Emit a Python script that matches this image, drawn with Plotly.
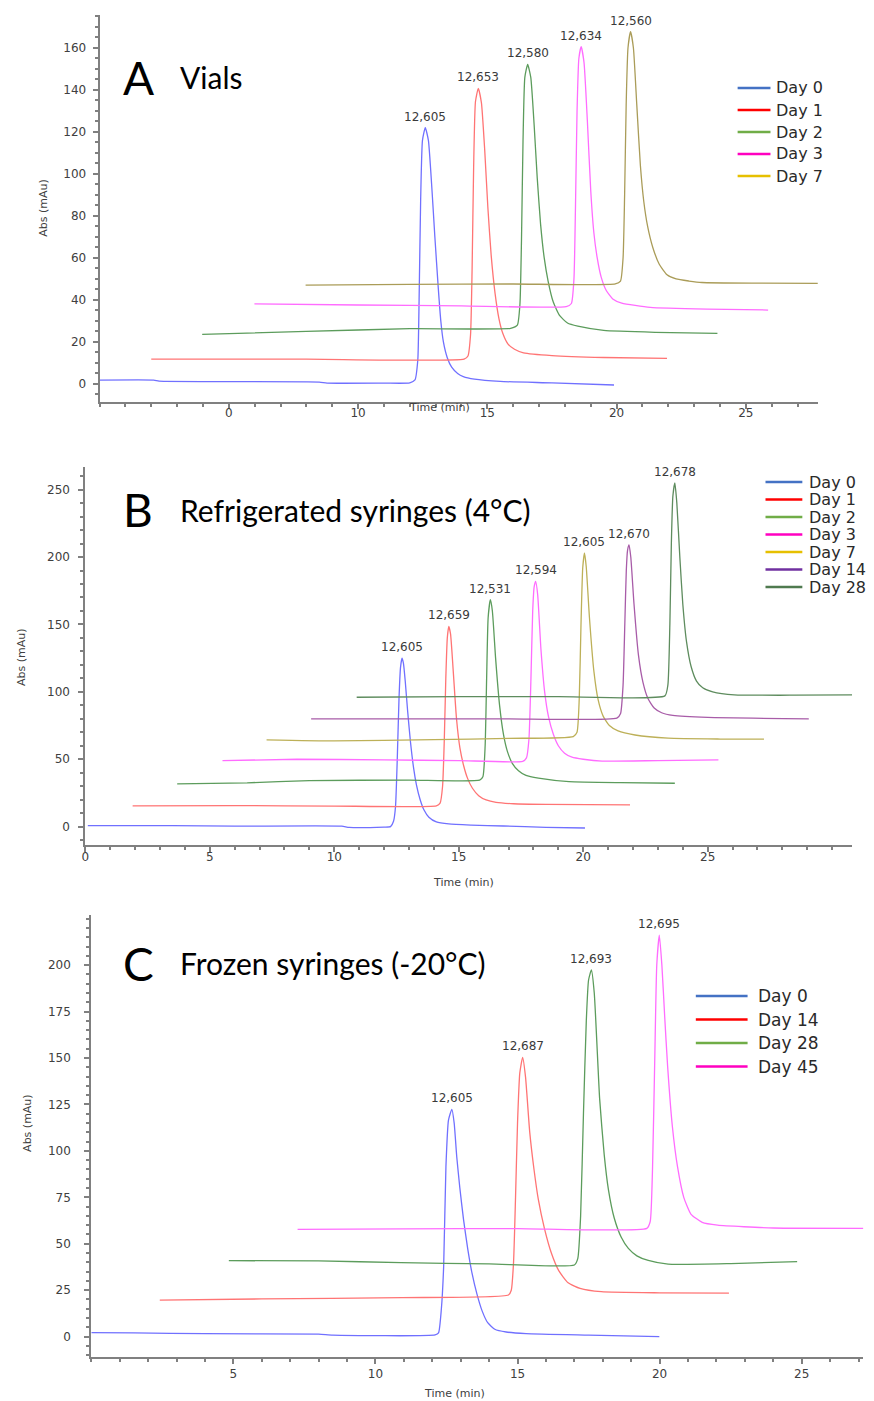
import plotly.graph_objects as go

W, H = 874, 1401

# ---------------- Panel A : Vials ----------------
A_labels = ["Day 0", "Day 1", "Day 2", "Day 3", "Day 7"]
A_masses = ["12,605", "12,653", "12,580", "12,634", "12,560"]

A_day0_t = [0.0, 2.1, 2.3, 5.0, 8.5, 8.8, 11.0, 12.0, 12.2, 12.31, 12.36, 12.42, 12.49, 12.6, 12.72, 12.85, 12.97, 13.1, 13.2, 13.3, 13.45, 13.62, 13.85, 14.07, 14.5, 15.5, 17.5, 19.9]
A_day0_y = [1.8, 1.8, 1.3, 1.1, 0.9, 0.4, 0.4, 0.5, 1.9, 11.4, 40, 87.6, 116, 122, 116, 94, 70, 46, 30, 20, 12.5, 8, 5, 3.5, 2.3, 1.2, 0.5, -0.5]
A_day1_t = [2.0, 8.0, 14.1, 14.25, 14.35, 14.41, 14.47, 14.54, 14.65, 14.77, 14.9, 15.02, 15.15, 15.3, 15.45, 15.6, 15.8, 16.05, 16.4, 17.5, 19.5, 21.95]
A_day1_y = [11.8, 11.8, 11.8, 13.3, 23.4, 54.4, 103.4, 134.4, 140.8, 134, 111, 84, 61, 43, 31, 24, 19, 16.5, 14.8, 13.5, 12.6, 12.2]
A_day2_t = [3.97, 8.0, 12.0, 15.9, 16.16, 16.26, 16.32, 16.38, 16.45, 16.56, 16.68, 16.81, 16.93, 17.06, 17.2, 17.35, 17.55, 17.8, 18.1, 18.5, 19.5, 21.5, 23.9]
A_day2_y = [23.6, 25.0, 26.3, 26.5, 28.0, 37.8, 68, 115.7, 146, 152.2, 146, 123.3, 98, 76, 60, 49, 39, 32.5, 29, 27.5, 25.5, 24.6, 24.1]
A_day3_t = [5.99, 10.0, 14.0, 18.05, 18.25, 18.35, 18.41, 18.47, 18.54, 18.63, 18.74, 18.87, 19.0, 19.12, 19.25, 19.4, 19.6, 19.85, 20.2, 21.3, 23.5, 25.86]
A_day3_y = [38.1, 37.6, 37.2, 36.8, 38.3, 50, 85, 130, 155, 160.6, 153, 125, 92, 72, 60, 51, 44.5, 40.5, 38.5, 36.5, 35.6, 35.2]
A_day7_t = [7.97, 12.0, 16.0, 19.95, 20.15, 20.25, 20.31, 20.37, 20.44, 20.54, 20.65, 20.78, 20.92, 21.05, 21.2, 21.4, 21.65, 21.95, 22.3, 22.8, 23.3, 25.5, 27.78]
A_day7_y = [47.1, 47.4, 47.6, 47.6, 49, 60, 90, 133, 160, 167.8, 160, 133, 104, 87, 75, 65, 57, 52, 50, 49, 48.3, 48.0, 47.9]

# ---------------- Panel B : Refrigerated syringes ----------------
B_labels = ["Day 0", "Day 1", "Day 2", "Day 3", "Day 7", "Day 14", "Day 28"]
B_masses = ["12,605", "12,659", "12,531", "12,594", "12,605", "12,670", "12,678"]

B_day0_t = [0.1, 3.5, 6.0, 10.3, 10.6, 12.0, 12.26, 12.38, 12.46, 12.53, 12.6, 12.66, 12.72, 12.78, 12.85, 12.95, 13.06, 13.19, 13.3, 13.45, 13.6, 13.8, 14.1, 14.6, 15.5, 16.8, 18.5, 20.07]
B_day0_y = [0.8, 0.8, 0.4, 0.4, -0.5, -0.3, 0.0, 4, 15, 50, 95, 118, 125, 121, 108, 85, 63, 43, 31, 20, 12.5, 7, 3.5, 2, 1.2, 0.5, -0.5, -1.0]
B_day1_t = [1.9, 6.0, 10.0, 14.1, 14.25, 14.35, 14.42, 14.48, 14.54, 14.6, 14.67, 14.78, 14.91, 15.05, 15.2, 15.35, 15.55, 15.8, 16.1, 16.5, 17.2, 18.5, 21.88]
B_day1_y = [15.4, 15.6, 15.3, 15.5, 17.5, 30, 65, 110, 140, 148.5, 143, 115, 80, 58, 45, 36, 28.5, 23, 19.8, 18, 17, 16.5, 16.1]
B_day2_t = [3.69, 6.5, 9.0, 13.0, 15.84, 15.97, 16.06, 16.12, 16.18, 16.27, 16.35, 16.48, 16.64, 16.8, 16.95, 17.15, 17.4, 17.7, 18.2, 19.43, 21.5, 23.68]
B_day2_y = [31.7, 32.5, 34.2, 34.5, 34.5, 37, 60, 110, 155, 168.3, 160, 125, 90, 68, 56, 47, 41.5, 38, 36, 33.4, 32.6, 32.2]
B_day3_t = [5.51, 8.5, 12.0, 15.0, 17.57, 17.72, 17.82, 17.9, 17.97, 18.03, 18.09, 18.17, 18.3, 18.45, 18.6, 18.8, 19.0, 19.25, 19.55, 20.0, 20.76, 23.0, 25.43]
B_day3_y = [49.0, 50.0, 49.5, 49.0, 48.5, 51, 65, 110, 160, 178, 181.9, 172, 132, 100, 82, 68.5, 60, 54.5, 51.5, 50, 48.6, 49, 49.5]
B_day7_t = [7.28, 10.0, 14.0, 17.0, 19.6, 19.75, 19.84, 19.91, 19.98, 20.05, 20.12, 20.25, 20.43, 20.6, 20.8, 21.05, 21.4, 22.08, 23.41, 25.5, 27.26]
B_day7_y = [64.4, 63.6, 64.5, 65.5, 66.8, 70, 95, 150, 192, 203, 193, 155, 115, 94, 82, 75, 71, 68, 65.6, 65, 64.9]
B_day14_t = [9.07, 13.0, 17.0, 21.35, 21.5, 21.6, 21.67, 21.73, 21.78, 21.84, 21.91, 22.04, 22.22, 22.4, 22.6, 22.85, 23.15, 23.6, 25.0, 29.06]
B_day14_y = [80, 80, 80, 80.5, 84, 105, 150, 190, 205, 209, 200, 165, 127, 107, 95, 88, 84.5, 82.5, 81, 80]
B_day28_t = [10.9, 15.0, 19.0, 23.28, 23.4, 23.48, 23.54, 23.6, 23.68, 23.76, 23.88, 24.0, 24.15, 24.33, 24.55, 24.8, 25.2, 26.07, 28.5, 30.8]
B_day28_y = [96, 96.5, 96.5, 97, 105, 150, 210, 245, 255, 240, 200, 165, 137, 119, 108, 103, 100, 97.8, 97.5, 97.8]

# ---------------- Panel C : Frozen syringes ----------------
C_labels = ["Day 0", "Day 14", "Day 28", "Day 45"]
C_masses = ["12,605", "12,687", "12,693", "12,695"]

C_day0_t = [0.0, 1.5, 4.0, 8.0, 8.5, 12.1, 12.22, 12.32, 12.4, 12.48, 12.57, 12.69, 12.77, 12.86, 12.97, 13.1, 13.25, 13.4, 13.57, 13.75, 13.95, 14.2, 14.6, 15.3, 17.5, 19.99]
C_day0_y = [2.2, 2.0, 1.6, 1.3, 0.8, 0.9, 2, 15, 37.7, 91.5, 116.6, 122.4, 115, 97, 80, 63, 47, 34, 23, 14, 7.5, 4, 2.5, 1.6, 0.8, 0.0]
C_day14_t = [2.41, 6.0, 10.94, 14.68, 14.78, 14.86, 14.93, 15.0, 15.08, 15.18, 15.28, 15.43, 15.58, 15.73, 15.95, 16.19, 16.45, 16.78, 17.2, 17.95, 20.0, 22.44]
C_day14_y = [19.7, 20.3, 21, 22.4, 25, 40, 75, 115, 142, 150.4, 140, 110, 90, 74, 58, 45, 35.5, 29, 26, 24.2, 23.6, 23.4]
C_day28_t = [4.84, 8.0, 10.9, 14.0, 17.0, 17.12, 17.22, 17.32, 17.42, 17.5, 17.6, 17.7, 17.89, 18.05, 18.2, 18.4, 18.65, 18.9, 19.2, 19.6, 20.3, 22.5, 24.84]
C_day28_y = [40.9, 40.8, 39.8, 39.2, 38.6, 42, 65, 120, 170, 192, 197.4, 185, 128, 98, 79, 64, 53.5, 47.5, 43.5, 41, 39, 39.3, 40.4]
C_day45_t = [7.26, 11.0, 15.0, 19.55, 19.67, 19.75, 19.83, 19.9, 19.99, 20.08, 20.18, 20.28, 20.45, 20.63, 20.85, 21.1, 21.5, 22.04, 24.0, 27.17]
C_day45_y = [57.8, 58.0, 58.2, 58.3, 62, 90, 150, 200, 216.2, 200, 172, 146, 113, 91.5, 75, 66, 61.5, 60, 58.5, 58.3]

# colours
A_line_colors = ["#7070ff", "#ff7474", "#5c9c5c", "#ff6cff", "#aa9c58"]
A_leg_colors = ["#4472c4", "#ff0000", "#70ad47", "#ff00c0", "#e6c000"]
B_line_colors = ["#7070ff", "#ff7474", "#5c9c5c", "#ff6cff", "#bdb058", "#a85ca8", "#5e8c5e"]
B_leg_colors = ["#4472c4", "#ff0000", "#70ad47", "#ff00c0", "#e6c000", "#7030a0", "#4f7a4f"]
C_line_colors = ["#7070ff", "#ff7474", "#5c9c5c", "#ff6cff"]
C_leg_colors = ["#4472c4", "#ff0000", "#70ad47", "#ff00c0"]

panels = [
    dict(ax="x", ay="y", labels=A_labels, masses=A_masses,
         series=[(A_day0_t, A_day0_y), (A_day1_t, A_day1_y), (A_day2_t, A_day2_y),
                 (A_day3_t, A_day3_y), (A_day7_t, A_day7_y)],
         lc=A_line_colors, gc=A_leg_colors,
         leg=dict(x0=737, x1=770, xt=777, y0=88, dy=22, size=16)),
    dict(ax="x2", ay="y2", labels=B_labels, masses=B_masses,
         series=[(B_day0_t, B_day0_y), (B_day1_t, B_day1_y), (B_day2_t, B_day2_y),
                 (B_day3_t, B_day3_y), (B_day7_t, B_day7_y), (B_day14_t, B_day14_y),
                 (B_day28_t, B_day28_y)],
         lc=B_line_colors, gc=B_leg_colors,
         leg=dict(x0=765, x1=802, xt=810, y0=482, dy=17.5, size=16)),
    dict(ax="x3", ay="y3", labels=C_labels, masses=C_masses,
         series=[(C_day0_t, C_day0_y), (C_day14_t, C_day14_y), (C_day28_t, C_day28_y),
                 (C_day45_t, C_day45_y)],
         lc=C_line_colors, gc=C_leg_colors,
         leg=dict(x0=695, x1=747, xt=758, y0=996, dy=23.5, size=17)),
]


def px(xp):
    return xp / W


def py(yp):
    return 1 - yp / H


fig = go.Figure()
annotations = []
shapes = []
for p in panels:
    lg = p["leg"]
    for k, ((t, y), lab, m, lc, gc) in enumerate(zip(p["series"], p["labels"], p["masses"], p["lc"], p["gc"])):
        fig.add_trace(go.Scatter(x=t, y=y, mode="lines", xaxis=p["ax"], yaxis=p["ay"], name=lab,
                                 line=dict(color=lc, width=1.3, shape="spline", smoothing=0.5),
                                 showlegend=False, hoverinfo="skip"))
        i = max(range(len(y)), key=lambda j: y[j])
        annotations.append(dict(x=t[i], y=y[i], xref=p["ax"], yref=p["ay"], text=m,
                                showarrow=False, yanchor="bottom", yshift=2,
                                font=dict(family="DejaVu Sans", size=12, color="#3a3a3a")))
        # legend entry (swatch + label)
        yr = lg["y0"] + k * lg["dy"]
        shapes.append(dict(type="line", xref="paper", yref="paper",
                           x0=px(lg["x0"]), x1=px(lg["x1"]), y0=py(yr), y1=py(yr),
                           line=dict(color=gc, width=2.5)))
        annotations.append(dict(x=px(lg["xt"] - 3), y=py(yr), xref="paper", yref="paper",
                                text=lab, showarrow=False, xanchor="left", yanchor="middle",
                                font=dict(family="DejaVu Sans", size=lg["size"], color="#2a2a2a")))

# panel titles
for letter, title, xl, xt, yc in [("A", "Vials", 135, 175, 77),
                                  ("B", "Refrigerated syringes (4°C)", 135, 175, 510),
                                  ("C", "Frozen syringes (-20°C)", 135, 175, 963)]:
    annotations.append(dict(x=px(xl), y=py(yc), xref="paper", yref="paper", text=letter,
                            showarrow=False, xanchor="center", yanchor="middle",
                            font=dict(family="Lato", size=46, color="#000000")))
    annotations.append(dict(x=px(xt), y=py(yc), xref="paper", yref="paper", text=title,
                            showarrow=False, xanchor="left", yanchor="middle",
                            font=dict(family="Lato", size=30, color="#000000")))

# axis titles
for xx, yy, txt, ang in [(40, 208, "Abs (mAu)", -90), (437, 408, "Time (min)", 0),
                         (17, 657, "Abs (mAu)", -90), (462, 882, "Time (min)", 0),
                         (23, 1123, "Abs (mAu)", -90), (453, 1393, "Time (min)", 0)]:
    annotations.append(dict(x=px(xx), y=py(yy), xref="paper", yref="paper", text=txt,
                            showarrow=False, textangle=ang, xanchor="center", yanchor="middle",
                            font=dict(family="DejaVu Sans", size=11, color="#404040")))

axis_common = dict(showline=True, linecolor="#808080", linewidth=2, ticks="outside",
                   ticklen=5, tickwidth=1.5, tickcolor="#808080", showgrid=False,
                   zeroline=False, fixedrange=True,
                   tickfont=dict(family="DejaVu Sans", size=12, color="#404040"))

A_xticks = [5, 10, 15, 20, 25]
A_xtext = ["0", "10", "15", "20", "25"]
B_xticks = [0, 5, 10, 15, 20, 25]
C_xticks = [5, 10, 15, 20, 25]
A_yticks = [0, 20, 40, 60, 80, 100, 120, 140, 160]
B_yticks = [0, 50, 100, 150, 200, 250]
C_yticks = [0, 25, 50, 75, 100, 125, 150, 175, 200]


def minor(d):
    return dict(ticks="outside", ticklen=3, tickcolor="#808080", tickmode="linear",
                tick0=0, dtick=d, showgrid=False)


fig.update_layout(
    width=W, height=H, margin=dict(l=0, r=0, t=0, b=0),
    paper_bgcolor="white", plot_bgcolor="white", showlegend=False,
    xaxis=dict(domain=[px(96), px(818)], anchor="y", range=[0, 27.8],
               tickmode="array", tickvals=A_xticks, ticktext=A_xtext, minor=minor(1),
               ticklabelstandoff=-6, **axis_common),
    yaxis=dict(domain=[py(402), py(15)], anchor="x", range=[-8.6, 175.7],
               tickmode="array", tickvals=A_yticks, minor=minor(5),
               ticklabelstandoff=4, **axis_common),
    xaxis2=dict(domain=[px(81.7), px(852)], anchor="y2", range=[0, 30.8],
                tickmode="array", tickvals=B_xticks, minor=minor(1),
                ticklabelstandoff=-5, **axis_common),
    yaxis2=dict(domain=[py(845), py(466.7)], anchor="x2", range=[-13.6, 267],
                tickmode="array", tickvals=B_yticks, minor=minor(10),
                ticklabelstandoff=6, **axis_common),
    xaxis3=dict(domain=[px(87.7), px(863.3)], anchor="y3", range=[0, 27.17],
                tickmode="array", tickvals=C_xticks, minor=minor(1),
                ticklabelstandoff=0, **axis_common),
    yaxis3=dict(domain=[py(1356.7), py(915)], anchor="x3", range=[-10.8, 227],
                tickmode="array", tickvals=C_yticks, minor=minor(5),
                ticklabelstandoff=11, **axis_common),
    annotations=annotations,
    shapes=shapes,
)

fig.write_html("out.html")
